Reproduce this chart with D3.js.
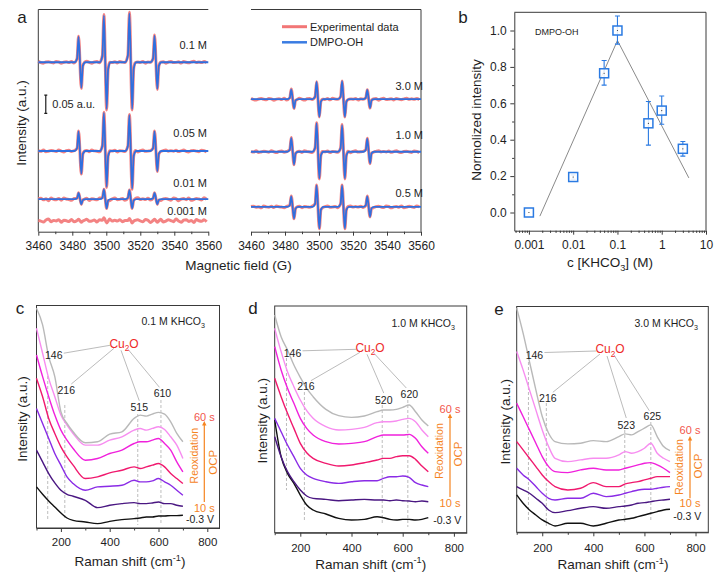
<!DOCTYPE html>
<html>
<head>
<meta charset="utf-8">
<script src="https://cdn.jsdelivr.net/npm/d3@7"></script>
<style>
  body { margin: 0; background: #fff; }
  svg { display: block; }
</style>
</head>
<body>
<svg id="fig" width="723" height="582"></svg>
<script>
(function () {
  "use strict";

  // ---------- panel a: EPR spectra (a.u.) ----------
  var EPR_TICKS = [3460, 3480, 3500, 3520, 3540, 3560];
  var DMPO_LINES = [3484.5, 3499.4, 3514.4, 3529.2];          // 1:2:2:1 quartet centres (G)
  var EPR_LEFT_LABELS = ["0.1 M", "0.05 M", "0.01 M", "0.001 M"];
  var EPR_LEFT_OFFSET = [0.464, 0.221, 0.089, 0.030];
  var EPR_LEFT_UP   = [[0.070, 0.128, 0.134, 0.073], [0.054, 0.104, 0.098, 0.054], [0.017, 0.027, 0.025, 0.017], [0.004, 0.008, 0.006, 0.004]];
  var EPR_LEFT_DOWN = [[0.070, 0.128, 0.128, 0.073], [0.062, 0.098, 0.103, 0.055], [0.014, 0.025, 0.025, 0.014], [0.004, 0.006, 0.006, 0.004]];
  var EPR_LEFT_NOISE = [0.003, 0.003, 0.0045, 0.005];
  var EPR_LEFT_FIT = [true, true, true, false];
  var EPR_RIGHT_LABELS = ["3.0 M", "1.0 M", "0.5 M"];
  var EPR_RIGHT_OFFSET = [0.363, 0.219, 0.068];
  var EPR_RIGHT_UP   = [[0.027, 0.047, 0.049, 0.025], [0.038, 0.078, 0.073, 0.036], [0.029, 0.059, 0.059, 0.029]];
  var EPR_RIGHT_DOWN = [[0.025, 0.048, 0.048, 0.024], [0.035, 0.073, 0.073, 0.032], [0.032, 0.059, 0.059, 0.027]];
  var EPR_RIGHT_NOISE = [0.003, 0.003, 0.003];
  // baseline ripple of the experimental traces, every 1.5 G
  var WIGGLE = [0.3, -0.2, 0.6, -0.5, 0.1, 0.9, -0.4, -0.8, 0.2, 0.5, -0.1, -0.6, 0.7, 0.3, -0.9, 0.0, 0.4, -0.3, 0.8, -0.7,
                -0.2, 0.5, 0.1, -0.5, 0.9, -0.1, -0.8, 0.3, 0.6, -0.4, 0.2, -0.9, 0.7, 0.0, -0.3, 0.5, -0.6, 0.8, 0.1, -0.2,
                -0.7, 0.4, 0.9, -0.5, 0.2, -0.1, 0.6, -0.8, 0.3, 0.0, -0.4, 0.7, -0.6, 0.1, 0.5, -0.9, 0.2, 0.8, -0.3, -0.1,
                0.4, -0.7, 0.6, 0.0, -0.5, 0.3, 0.9, -0.2];

  // ---------- panel b: normalised DMPO-OH intensity ----------
  var CONC = [0.001, 0.01, 0.05, 0.1, 0.5, 1, 3];
  var NORM_INT = [0.0, 0.195, 0.765, 1.0, 0.49, 0.56, 0.35];
  var NORM_ERR_LO = [0, 0.012, 0.065, 0.075, 0.12, 0.075, 0.04];
  var NORM_ERR_HI = [0, 0.012, 0.07, 0.08, 0.12, 0.08, 0.04];
  var TREND_C = [0.00177, 0.1, 4.1];
  var TREND_I = [-0.02, 0.945, 0.19];

  // ---------- panels c-e: Raman spectra, bottom (-0.3 V) to top (60 s) ----------
  var RAMAN_X = [100, 125, 150, 175, 200, 225, 250, 300, 350, 400, 450, 500, 525, 550, 575, 600, 625, 650, 675, 700];
  var RAMAN_COLORS = ["#111111", "#4a1782", "#8a2be6", "#f0196e", "#f021dc", "#f78df0", "#b9b9b9"];
  var RAMAN_C = [
    [123, 101, 81, 63, 45, 30, 23, 18, 13, 20, 25, 28, 30, 33, 33, 36, 36, 37, 37, 38],
    [233, 198, 163, 135, 113, 101, 95, 83, 61, 68, 73, 76, 73, 73, 75, 78, 73, 73, 68, 65],
    [358, 313, 268, 223, 188, 153, 133, 113, 123, 125, 128, 143, 138, 138, 141, 148, 138, 128, 113, 98],
    [448, 393, 328, 283, 243, 213, 188, 148, 153, 165, 173, 183, 178, 183, 188, 193, 183, 163, 148, 133],
    [518, 453, 393, 338, 293, 263, 238, 203, 208, 223, 233, 253, 258, 258, 263, 268, 253, 233, 198, 168],
    [598, 523, 448, 393, 338, 308, 283, 248, 248, 263, 273, 293, 298, 293, 298, 303, 295, 273, 248, 208],
    [658, 608, 513, 453, 348, 313, 288, 255, 258, 281, 288, 328, 338, 335, 341, 346, 341, 318, 283, 258]
  ];
  var RAMAN_D = [
    [338, 228, 178, 148, 113, 83, 68, 56, 43, 38, 40, 48, 45, 40, 38, 40, 40, 38, 40, 45],
    [288, 228, 183, 153, 128, 110, 103, 100, 96, 98, 100, 98, 98, 96, 98, 96, 95, 93, 95, 93],
    [343, 303, 263, 228, 193, 173, 163, 153, 148, 153, 156, 156, 163, 168, 168, 170, 166, 150, 143, 138],
    [463, 408, 358, 313, 268, 240, 223, 208, 200, 203, 210, 218, 223, 223, 228, 231, 231, 220, 200, 183],
    [558, 488, 433, 388, 343, 313, 293, 273, 266, 268, 273, 288, 293, 293, 293, 293, 295, 283, 258, 238],
    [613, 543, 483, 438, 398, 366, 343, 318, 308, 310, 316, 330, 333, 333, 335, 340, 343, 333, 308, 288],
    [653, 588, 548, 503, 466, 433, 408, 370, 351, 346, 350, 363, 368, 368, 370, 376, 383, 363, 338, 320]
  ];
  var RAMAN_E = [
    [112, 87, 67, 52, 37, 27, 19, 27, 27, 19, 27, 37, 39, 42, 47, 52, 57, 62, 67, 69],
    [137, 127, 117, 102, 87, 67, 59, 65, 72, 77, 72, 77, 79, 82, 87, 89, 92, 95, 97, 99],
    [192, 172, 157, 137, 117, 102, 97, 102, 102, 117, 107, 112, 117, 122, 127, 129, 129, 132, 135, 137],
    [272, 247, 222, 197, 172, 152, 137, 127, 132, 149, 137, 137, 145, 149, 152, 157, 162, 167, 167, 167],
    [387, 347, 307, 267, 227, 197, 182, 179, 187, 192, 187, 187, 192, 197, 202, 207, 209, 202, 192, 179],
    [542, 487, 427, 367, 307, 257, 222, 212, 217, 222, 222, 232, 242, 237, 242, 252, 267, 237, 222, 212],
    [672, 597, 512, 427, 347, 297, 272, 265, 267, 275, 272, 287, 295, 292, 302, 312, 322, 287, 257, 245]
  ];
  var PEAKS_C = [146, 216, 515, 610];
  var PEAKS_D = [146, 216, 520, 620];
  var PEAKS_E = [146, 216, 523, 625];
  var RAMAN_TICKS = [200, 400, 600, 800];

  var FONT = "'Liberation Sans', Arial, Helvetica, sans-serif";
  var INK = "#1e1e1e", FRAME = "#3a3a3a";
  var svg = d3.select("#fig").attr("font-family", FONT);

  function text(g, x, y, s, size, opt) {
    opt = opt || {};
    var t = g.append("text").attr("x", x).attr("y", y).attr("dy", "0.35em")
      .attr("font-size", size).attr("fill", opt.fill || INK)
      .attr("text-anchor", opt.anchor || "middle").text(s);
    if (opt.rotate) t.attr("transform", "rotate(-90," + x + "," + y + ")");
    return t;
  }
  function subText(g, x, y, pre, sub, post, size, opt) {
    opt = opt || {};
    var t = g.append("text").attr("x", x).attr("y", y).attr("dy", "0.35em")
      .attr("font-size", size).attr("fill", opt.fill || INK).attr("text-anchor", opt.anchor || "middle");
    t.append("tspan").text(pre);
    t.append("tspan").attr("dy", opt.sup ? -size * 0.4 : size * 0.3).attr("font-size", size * 0.68).text(sub);
    t.append("tspan").attr("dy", opt.sup ? size * 0.4 : -size * 0.3).text(post);
    return t;
  }
  function styleAxis(sel, size) {
    sel.attr("font-family", FONT).attr("font-size", size);
    sel.select(".domain").attr("stroke", FRAME).attr("stroke-width", 1);
    sel.selectAll(".tick line").attr("stroke", FRAME).attr("stroke-width", 1);
    sel.selectAll(".tick text").attr("fill", INK);
  }
  function panelLetter(x, y, s) { text(svg, x, y, s, 17); }

  // ======================= panel a =======================
  var aY = d3.scaleLinear().domain([0, 0.6085]).range([231.7, 9.5]);
  var aXL = d3.scaleLinear().domain([3460, 3560]).range([38.3, 208.3]);
  var aXR = d3.scaleLinear().domain([3460, 3560]).range([251, 421]);
  var ga = svg.append("g");

  [aXL, aXR].forEach(function (x) {
    var ax = ga.append("g").attr("transform", "translate(0," + aY.range()[0] + ")")
      .call(d3.axisBottom(x).tickValues(EPR_TICKS).tickSize(4).tickSizeOuter(0).tickPadding(6).tickFormat(d3.format("d")));
    styleAxis(ax, 12);
    var mn = ga.append("g").attr("transform", "translate(0," + aY.range()[0] + ")")
      .call(d3.axisBottom(x).tickValues(d3.range(3470, 3560, 20)).tickSize(2.5).tickFormat(""));
    styleAxis(mn, 12); mn.select(".domain").remove();
  });
  // open frames: left block has left + top, right block top + right
  ga.append("path").attr("fill", "none").attr("stroke", FRAME)
    .attr("d", "M" + aXL.range()[1] + "," + aY.range()[1] + "H" + aXL.range()[0] + "V" + aY.range()[0]);
  ga.append("path").attr("fill", "none").attr("stroke", FRAME)
    .attr("d", "M" + aXR.range()[0] + "," + aY.range()[1] + "H" + aXR.range()[1] + "V" + aY.range()[0]);

  function eprShape(up, down, k) {
    var pts = [[3460, 0], [3560, 0]];
    DMPO_LINES.forEach(function (c, i) {
      var a = up[i] * k, b = down[i] * k;
      pts.push([c - 3.2, 0], [c - 1.7, 0.14 * a], [c - 0.8, a], [c + 0.8, -b], [c + 1.7, -0.14 * b], [c + 3.2, 0]);
    });
    return pts.sort(function (p, q) { return p[0] - q[0]; });
  }
  function eprExperimental(up, down, noise, shift) {
    var pts = eprShape(up, down, 1.02).filter(function (p) { return p[1] !== 0; });
    for (var i = 0, f = 3460; f <= 3560; i++, f += 1.5) {
      var near = DMPO_LINES.some(function (c) { return Math.abs(f - c) < 2.4; });
      if (!near) pts.push([f, noise * WIGGLE[(i + shift) % WIGGLE.length]]);
    }
    return pts.sort(function (p, q) { return p[0] - q[0]; });
  }
  function drawEPR(x, labels, offs, ups, downs, noises, fits, labelDy, labelX) {
    labels.forEach(function (lab, i) {
      var line = d3.line().x(function (d) { return x(d[0]); })
        .y(function (d) { return aY(offs[i] + d[1]); }).curve(d3.curveMonotoneX);
      ga.append("path").attr("d", line(eprExperimental(ups[i], downs[i], noises[i], i * 11 + 5)))
        .attr("fill", "none").attr("stroke", "#f27676").attr("stroke-width", 3)
        .attr("stroke-opacity", 0.9).attr("stroke-linejoin", "round");
      if (fits[i]) {
        ga.append("path").attr("d", line(eprShape(ups[i], downs[i], 1)))
          .attr("fill", "none").attr("stroke", "#2f6fdf").attr("stroke-width", 1.8);
      }
      text(ga, labelX, aY(offs[i]) + labelDy[i], lab, 11, { anchor: "end" });
    });
  }
  drawEPR(aXL, EPR_LEFT_LABELS, EPR_LEFT_OFFSET, EPR_LEFT_UP, EPR_LEFT_DOWN, EPR_LEFT_NOISE, EPR_LEFT_FIT, [-16.7, -17.4, -16.3, -9.5], 207);
  drawEPR(aXR, EPR_RIGHT_LABELS, EPR_RIGHT_OFFSET, EPR_RIGHT_UP, EPR_RIGHT_DOWN, EPR_RIGHT_NOISE, [true, true, true], [-13, -16.7, -14], 423);

  // 0.05 a.u. scale bar
  var sbx = aXL(3464.4);
  ga.append("path").attr("fill", "none").attr("stroke", INK).attr("stroke-width", 1.2)
    .attr("d", "M" + (sbx - 1.5) + "," + aY(0.374) + "h3M" + sbx + "," + aY(0.374) + "V" + aY(0.324) + "M" + (sbx - 1.5) + "," + aY(0.324) + "h3");
  text(ga, sbx + 6.5, aY(0.349), "0.05 a.u.", 11, { anchor: "start" });

  // legend
  ga.append("line").attr("x1", 282).attr("x2", 307).attr("y1", 26.7).attr("y2", 26.7).attr("stroke", "#f27676").attr("stroke-width", 3);
  ga.append("line").attr("x1", 282).attr("x2", 307).attr("y1", 42.3).attr("y2", 42.3).attr("stroke", "#3a7ce2").attr("stroke-width", 2.5);
  text(ga, 310, 26.7, "Experimental data", 11, { anchor: "start" });
  text(ga, 310, 42.3, "DMPO-OH", 11, { anchor: "start" });

  text(ga, 21.5, 123, "Intensity (a.u.)", 13.5, { rotate: true });
  text(ga, 238.5, 265.5, "Magnetic field (G)", 13.5);
  panelLetter(22, 17, "a");

  // ======================= panel b =======================
  var gb = svg.append("g");
  var bX = d3.scaleLog().domain([Math.pow(10, -3.33), 10]).range([514.3, 706]);
  var bY = d3.scaleLinear().domain([-0.1, 1.1]).range([230.7, 12.3]);

  var bxAx = gb.append("g").attr("transform", "translate(0," + bY.range()[0] + ")")
    .call(d3.axisBottom(bX).tickValues([0.001, 0.01, 0.1, 1, 10]).tickSize(4).tickSizeOuter(0).tickPadding(6)
      .tickFormat(function (d) { return String(d); }));
  styleAxis(bxAx, 12);
  var minorC = [];
  [-4, -3, -2, -1, 0].forEach(function (e) {
    for (var m = 2; m < 10; m++) { var v = m * Math.pow(10, e); if (v >= bX.domain()[0] && v < 10) minorC.push(v); }
  });
  var bxMn = gb.append("g").attr("transform", "translate(0," + bY.range()[0] + ")")
    .call(d3.axisBottom(bX).tickValues(minorC).tickSize(2.2).tickFormat(""));
  styleAxis(bxMn, 12); bxMn.select(".domain").remove();

  var byAx = gb.append("g").attr("transform", "translate(" + bX.range()[0] + ",0)")
    .call(d3.axisLeft(bY).tickValues([0, 0.2, 0.4, 0.6, 0.8, 1.0]).tickSize(4).tickSizeOuter(0).tickPadding(3.5).tickFormat(d3.format(".1f")));
  styleAxis(byAx, 12);
  var byMn = gb.append("g").attr("transform", "translate(" + bX.range()[0] + ",0)")
    .call(d3.axisLeft(bY).tickValues([0.1, 0.3, 0.5, 0.7, 0.9]).tickSize(2.2).tickFormat(""));
  styleAxis(byMn, 12); byMn.select(".domain").remove();
  gb.append("path").attr("fill", "none").attr("stroke", FRAME)
    .attr("d", "M" + bX.range()[0] + "," + bY.range()[1] + "H" + bX.range()[1] + "V" + bY.range()[0]);

  gb.append("path").datum(TREND_C.map(function (c, i) { return [c, TREND_I[i]]; }))
    .attr("fill", "none").attr("stroke", "#8a8a8a").attr("stroke-width", 1)
    .attr("d", d3.line().x(function (d) { return bX(d[0]); }).y(function (d) { return bY(d[1]); }));

  var BLUE = "#2a7ae2";
  CONC.forEach(function (c, i) {
    var x = bX(c), yv = NORM_INT[i];
    if (NORM_ERR_LO[i] + NORM_ERR_HI[i] > 0) {
      var y0 = bY(yv - NORM_ERR_LO[i]), y1 = bY(yv + NORM_ERR_HI[i]);
      gb.append("path").attr("fill", "none").attr("stroke", BLUE).attr("stroke-width", 1.1)
        .attr("d", "M" + x + "," + y0 + "V" + y1 + "M" + (x - 2.5) + "," + y0 + "h5M" + (x - 2.5) + "," + y1 + "h5");
    }
    gb.append("rect").attr("x", x - 4.5).attr("y", bY(yv) - 4.5).attr("width", 9).attr("height", 9)
      .attr("fill", "#fff").attr("fill-opacity", 0.85).attr("stroke", BLUE).attr("stroke-width", 1.5);
    gb.append("circle").attr("cx", x).attr("cy", bY(yv)).attr("r", 0.6).attr("fill", "#333");
  });
  text(gb, 535, 31.7, "DMPO-OH", 9, { anchor: "start" });
  text(gb, 476.5, 120, "Normolized intensity", 13.5, { rotate: true });
  subText(gb, 610, 262.7, "c [KHCO", "3", "] (M)", 13.5);
  panelLetter(463, 17, "b");

  // ======================= panels c-e =======================
  var PANELS = [
    { letter: "c", lx: 20, ly: 308, data: RAMAN_C, peaks: PEAKS_C, conc: "0.1 M KHCO",
      x0: 36.5, x1: 219.5, top: 305.5, bottom: 528, ymax: 666, pad: 6.3,
      concX: 205, concY: 321, cu: [124, 343.3],
      labY: [355.7, 390, 407.7, 393.3], dash: [[376, 520], [405, 520], [414, 525], [400, 525]],
      arrowX: 204.3, s60: 416.7, s10: 508.3, arrow: [421, 502], reox: [194.3, 455.7], ocp: [213.3, 462.3], volt: [200, 519.5],
      yl: [22.5, 419], xl: [130, 561.7] },
    { letter: "d", lx: 253, ly: 308, data: RAMAN_D, peaks: PEAKS_D, conc: "1.0 M KHCO",
      x0: 274.7, x1: 466.7, top: 306, bottom: 532.7, ymax: 680, pad: 7,
      concX: 455, concY: 323.3, cu: [370, 347.3],
      labY: [353.3, 386.7, 400, 394], dash: [[358, 490], [392, 522], [405, 525], [400, 527]],
      arrowX: 450, s60: 409.3, s10: 503.3, arrow: [413.5, 497], reox: [439.3, 451], ocp: [458.3, 454], volt: [447.3, 520],
      yl: [262.7, 420.7], xl: [370.7, 564] },
    { letter: "e", lx: 499, ly: 309, data: RAMAN_E, peaks: PEAKS_E, conc: "3.0 M KHCO",
      x0: 516.7, x1: 708.3, top: 306.5, bottom: 532.3, ymax: 677, pad: 7.4,
      concX: 698, concY: 323, cu: [610, 349],
      labY: [355, 398.3, 425, 416.7], dash: [[362, 520], [403, 528], [430, 522], [422, 520]],
      arrowX: 690, s60: 430.5, s10: 503.3, arrow: [436, 498.3], reox: [679.3, 467], ocp: [698.3, 466], volt: [687.3, 516],
      yl: [505, 421.7], xl: [613, 564.3] }
  ];
  var ORANGE = "#f5841f";

  PANELS.forEach(function (P) {
    var g = svg.append("g");
    var x = d3.scaleLinear().domain([100, 850]).range([P.x0, P.x1]);
    var y = d3.scaleLinear().domain([0, P.ymax]).range([P.bottom, P.top]);

    var ax = g.append("g").attr("transform", "translate(0," + P.bottom + ")")
      .call(d3.axisBottom(x).tickValues(RAMAN_TICKS).tickSize(4).tickSizeOuter(0).tickPadding(P.pad).tickFormat(d3.format("d")));
    styleAxis(ax, 11.5);
    var mn = g.append("g").attr("transform", "translate(0," + P.bottom + ")")
      .call(d3.axisBottom(x).tickValues([100, 300, 500, 700]).tickSize(2.5).tickFormat(""));
    styleAxis(mn, 11.5); mn.select(".domain").remove();
    g.append("rect").attr("x", P.x0).attr("y", P.top).attr("width", P.x1 - P.x0).attr("height", P.bottom - P.top)
      .attr("fill", "none").attr("stroke", FRAME);

    // Cu2O reference lines (behind the spectra)
    P.peaks.forEach(function (pk, i) {
      g.append("line").attr("x1", x(pk)).attr("x2", x(pk)).attr("y1", P.dash[i][0]).attr("y2", P.dash[i][1])
        .attr("stroke", "#bdbdbd").attr("stroke-width", 1).attr("stroke-dasharray", "3,2");
    });

    var line = d3.line().x(function (d, i) { return x(RAMAN_X[i]); }).y(function (d) { return y(d); }).curve(d3.curveMonotoneX);
    P.data.forEach(function (s, k) {
      g.append("path").attr("d", line(s)).attr("fill", "none")
        .attr("stroke", RAMAN_COLORS[k]).attr("stroke-width", 1.4).attr("stroke-linejoin", "round");
    });

    // peak labels + leaders to Cu2O
    var cx = P.cu[0], cy = P.cu[1];
    var starts = [[cx - 14, cy + 2], [cx - 10, cy + 5], [cx - 3, cy + 7], [cx + 4, cy + 6]];
    var offs = [6, 1.5, 1.5, 1.5];
    P.peaks.forEach(function (pk, i) {
      var lx = x(pk) + offs[i], ly = P.labY[i];
      var ends = [[lx + 10, ly - 2.5], [lx + 5, ly - 6], [lx, ly - 7], [lx - 3, ly - 6]];
      g.append("line").attr("x1", starts[i][0]).attr("y1", starts[i][1]).attr("x2", ends[i][0]).attr("y2", ends[i][1])
        .attr("stroke", "#a9a9a9").attr("stroke-width", 0.8);
      text(g, lx, ly, String(pk), 10.5);
    });
    subText(g, cx, cy, "Cu", "2", "O", 12, { fill: "#ee2a2a" });
    subText(g, P.concX, P.concY, P.conc, "3", "", 10.5, { anchor: "end" });

    // reoxidation arrow
    g.append("line").attr("x1", P.arrowX).attr("x2", P.arrowX).attr("y1", P.arrow[1]).attr("y2", P.arrow[0] + 3)
      .attr("stroke", ORANGE).attr("stroke-width", 1.2);
    g.append("path").attr("fill", ORANGE)
      .attr("d", "M" + P.arrowX + "," + P.arrow[0] + "l-2.2,4.5h4.4z");
    text(g, P.arrowX, P.s60, "60 s", 11, { fill: "#f2564c" });
    text(g, P.arrowX, P.s10, "10 s", 11, { fill: ORANGE });
    text(g, P.reox[0], P.reox[1], "Reoxidation", 10.5, { fill: ORANGE, rotate: true });
    text(g, P.ocp[0], P.ocp[1], "OCP", 11.5, { fill: ORANGE, rotate: true });
    text(g, P.volt[0], P.volt[1], "-0.3 V", 10.5, {});

    text(g, P.yl[0], P.yl[1], "Intensity (a.u.)", 13.5, { rotate: true });
    subText(g, P.xl[0], P.xl[1], "Raman shift (cm", "-1", ")", 13.5, { sup: true });
    panelLetter(P.lx, P.ly, P.letter);
  });
})();
</script>
</body>
</html>
